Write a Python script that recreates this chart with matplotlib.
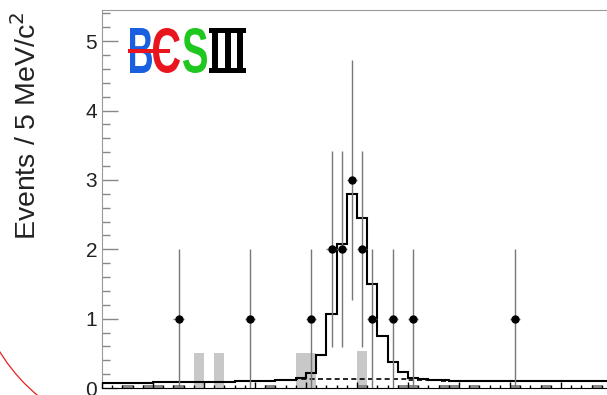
import numpy as np
import matplotlib.pyplot as plt
from matplotlib.patches import Arc, Rectangle, PathPatch
from matplotlib.textpath import TextPath
from matplotlib.font_manager import FontProperties
from matplotlib.transforms import Affine2D

plt.rcParams['font.family'] = ['Liberation Sans', 'DejaVu Sans']

bin_width = 5  # MeV

# total fit (solid histogram), one value per 5 MeV bin starting at 0
fit_total = [0.075, 0.076, 0.077, 0.078, 0.079, 0.080, 0.081, 0.082, 0.084, 0.086,
             0.088, 0.090, 0.092, 0.095, 0.098, 0.100, 0.105, 0.110, 0.120, 0.140,
             0.22, 0.48, 1.07, 2.08, 2.80, 2.45, 1.50, 0.75, 0.37, 0.23,
             0.14, 0.125, 0.12, 0.11, 0.105, 0.105, 0.10, 0.10, 0.10, 0.10,
             0.10, 0.10, 0.10, 0.10, 0.10, 0.10, 0.10, 0.10, 0.10, 0.10,
             0.10, 0.10, 0.10, 0.10, 0.10]

# background shape (dashed)
fit_bkg = [0.075, 0.076, 0.077, 0.078, 0.079, 0.080, 0.081, 0.082, 0.084, 0.086,
           0.088, 0.090, 0.092, 0.095, 0.098, 0.100, 0.105, 0.110, 0.115, 0.125,
           0.13, 0.13, 0.13, 0.13, 0.13, 0.13, 0.13, 0.13, 0.13, 0.125,
           0.12, 0.115, 0.11, 0.105, 0.105, 0.10, 0.10, 0.10, 0.10, 0.10,
           0.10, 0.10, 0.10, 0.10, 0.10, 0.10, 0.10, 0.10, 0.10, 0.10,
           0.10, 0.10, 0.10, 0.10, 0.10]

# light gray histogram (sideband)
side_bins = [45, 55, 95, 100, 125]
side_vals = [0.5, 0.5, 0.5, 0.5, 0.54]

# dark gray small histogram
dark_bins = [10, 20, 25, 35, 80, 125, 145, 150, 165, 170, 180, 200, 215, 240]
dark_vals = [0.05] * len(dark_bins)

# data points
data_x = [37.5, 72.5, 102.5, 112.5, 117.5, 122.5, 127.5, 132.5, 142.5, 152.5, 202.5]
data_n = [1, 1, 1, 2, 2, 3, 2, 1, 1, 1, 1]

fig = plt.figure(figsize=(6.07, 3.95), dpi=100)
W, H = 607, 395
x0_px, x_scale = 102, 2.04
y0_px, y_top_px = 388, 10
xmax = 275
ax = fig.add_axes([x0_px / W, (H - y0_px) / H, xmax * x_scale / W, (y0_px - y_top_px) / H])

ax.bar(side_bins, side_vals, width=bin_width, align='edge', color='#c8c8c8', zorder=1)
ax.bar(dark_bins, dark_vals, width=bin_width, align='edge', color='#8a8a8a', zorder=1)

edges = np.arange(0, bin_width * len(fit_total) + 1, bin_width)
ax.stairs(fit_bkg, edges, color='black', lw=1.2, ls=(0, (3, 2)), zorder=2)
ax.stairs(fit_total, edges, color='black', lw=1.5, zorder=3)

ax.errorbar(data_x, data_n, yerr=np.sqrt(data_n), xerr=bin_width / 2, fmt='o', color='black',
            ms=5, ecolor='#777777', elinewidth=1, capsize=0, zorder=4)

ax.set_xlim(0, xmax)
ax.set_ylim(0, 5.45)
ax.set_yticks(range(0, 6))
ax.set_yticks(np.arange(0, 5.45, 0.2), minor=True)
ax.set_xticks(np.arange(0, xmax, 25))
ax.set_xticks(np.arange(0, xmax, 5), minor=True)
ax.set_xticklabels([])
ax.tick_params(axis='y', which='major', direction='in', length=11.3, width=1,
               color='#888888', labelsize=15, pad=3.5, labelcolor='#222222')
ax.tick_params(axis='y', which='minor', direction='in', length=5.8, width=1, color='#888888')
ax.tick_params(axis='x', which='major', direction='in', length=4, width=1, color='black')
ax.tick_params(axis='x', which='minor', direction='in', length=2.5, width=1, color='black')
for s in ['left', 'top']:
    ax.spines[s].set_color('#999999')
ax.spines['bottom'].set_color('black')
ax.spines['right'].set_visible(False)

fig.text(27 / W, (H - 12) / H, 'Events / 5 MeV/c$^{2}$', rotation=90, ha='center', va='top',
         fontsize=20.5, color='#222222')

# overlay in pixel coordinates for logo and red arc
ov = fig.add_axes([0, 0, 1, 1], zorder=10)
ov.set_xlim(0, W)
ov.set_ylim(H, 0)
ov.axis('off')
ov.patch.set_alpha(0)


def glyph(s, x0, y0, x1, y1, color):
    fp = FontProperties(family='Liberation Sans', weight='bold')
    tp = TextPath((0, 0), s, size=100, prop=fp)
    bb = tp.get_extents()
    tr = Affine2D().translate(-bb.x0, -bb.y0).scale((x1 - x0) / bb.width, -(y1 - y0) / bb.height).translate(x0, y1)
    ov.add_patch(PathPatch(tr.transform_path(tp), color=color, lw=0))


glyph('B', 130, 28, 152, 73, '#1a5fe0')
glyph('C', 153, 28, 180, 73, '#e8141e')
glyph('S', 183, 28, 207, 73, '#1ec81e')
ov.add_patch(Rectangle((128, 49), 42, 3.5, color='#e8141e', lw=0))
# roman numeral III
ov.add_patch(Rectangle((209, 28), 37, 5, color='black', lw=0))
ov.add_patch(Rectangle((209, 68), 37, 5, color='black', lw=0))
for bx in [212, 224.5, 237]:
    ov.add_patch(Rectangle((bx, 28), 6, 45, color='black', lw=0))

ov.add_patch(Arc((150, 260), 352, 352, theta1=120, theta2=155, color='#e82020', lw=0.9))

fig.savefig('out.png', dpi=100)
